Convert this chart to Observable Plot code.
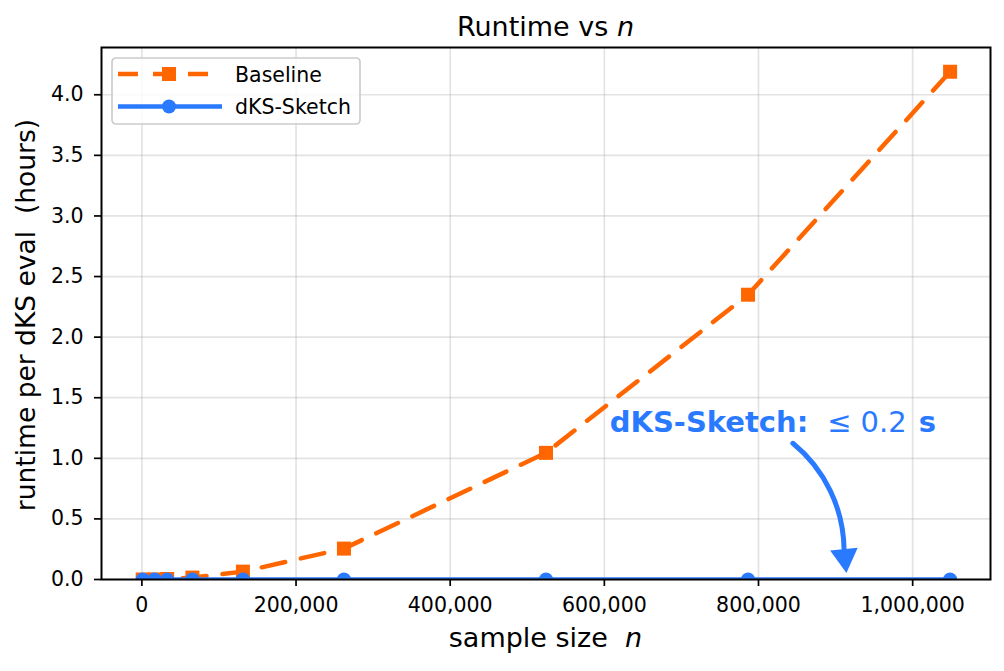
<!DOCTYPE html>
<html>
<head>
<meta charset="utf-8">
<script src="https://cdn.jsdelivr.net/npm/d3@7"></script>
<script src="https://cdn.jsdelivr.net/npm/@observablehq/plot@0.6"></script>
<style>
  body { margin: 0; background: #fff; font-family: "DejaVu Sans", sans-serif; }
  #wrap { position: relative; width: 1004px; height: 671px; overflow: hidden; background: #fff; }
  #title { position: absolute; left: 101px; width: 889px; top: 13px; text-align: center; font-size: 27px; line-height: 27px; color: #000; white-space: nowrap; }
  #chart { position: absolute; left: 0; top: 40px; }
  #xlabel { position: absolute; left: 101px; width: 889px; top: 624px; text-align: center; font-size: 27px; line-height: 27px; color: #000; white-space: pre; }
  #ylabel { position: absolute; left: 25px; top: 315px; font-size: 26.5px; line-height: 27px; color: #000; white-space: pre; transform: translate(-50%, -50%) rotate(-90deg); }
  #legend { position: absolute; left: 111px; top: 57px; }
  #legend text { font-family: "DejaVu Sans", sans-serif; font-size: 20.5px; fill: #000; }
</style>
</head>
<body>
<div id="wrap">
  <div id="title"></div>
  <div id="chart"></div>
  <div id="xlabel"></div>
  <div id="ylabel"></div>
  <svg id="legend" width="250" height="68"></svg>
</div>
<script>
// ---- data ----
const nValues = [1024, 16384, 32768, 65536, 131072, 262144, 524288, 786432, 1048576];
const baselineHours = [0.0002, 0.001, 0.004, 0.016, 0.065, 0.255, 1.045, 2.35, 4.19];
const sketchHours = [0.00002, 0.00002, 0.00003, 0.00003, 0.00004, 0.00004, 0.00005, 0.00005, 0.00006];
const xTicks = [0, 200000, 400000, 600000, 800000, 1000000];
const yTicks = [0, 0.5, 1, 1.5, 2, 2.5, 3, 3.5, 4];
const seriesNames = ["Baseline", "dKS-Sketch"];
const seriesColors = ["#ff6600", "#2a7aff"];
const titleText = "Runtime vs ";
const titleVar = "n";
const xLabelText = "sample size  ";
const yLabelText = "runtime per dKS eval  (hours)";
const annotationLabel = [{x: 607000, y: 1.29, bold: "dKS-Sketch:", rel: "≤", value: "0.2", unit: "s"}];
const annotationArrow = [{x1: 844600, y1: 1.124, x2: 911000, y2: 0.25}];
const annotationHead = [{x: 911900, y: 0.185}];

// ---- tables ----
const baseline = nValues.map((n, i) => ({n, h: baselineHours[i]}));
const sketch = nValues.map((n, i) => ({n, h: sketchHours[i]}));

const orange = seriesColors[0], blue = seriesColors[1];

const plot = Plot.plot({
  width: 1004,
  height: 631,
  marginTop: 7,
  marginBottom: 92,
  marginLeft: 101,
  marginRight: 14,
  style: {fontFamily: "DejaVu Sans, sans-serif", fontSize: "20.5px", color: "#000", background: "transparent"},
  x: {domain: [-52400, 1101000]},
  y: {domain: [0, 4.39]},
  marks: [
    Plot.gridX(xTicks, {stroke: "#b0b0b0", strokeOpacity: 0.35, strokeWidth: 1.7}),
    Plot.gridY(yTicks, {stroke: "#b0b0b0", strokeOpacity: 0.35, strokeWidth: 1.7}),
    Plot.line(baseline, {x: "n", y: "h", stroke: orange, strokeWidth: 4.5, strokeDasharray: "24,16", clip: true}),
    Plot.dot(baseline, {x: "n", y: "h", symbol: "square", r: 7.9, fill: orange, stroke: null, clip: true}),
    Plot.line(sketch, {x: "n", y: "h", stroke: blue, strokeWidth: 4.5, clip: true}),
    Plot.dot(sketch, {x: "n", y: "h", symbol: "circle", r: 7, fill: blue, stroke: null, clip: true}),
    Plot.text(annotationLabel, {x: "x", y: "y", text: "bold", textAnchor: "start", lineAnchor: "middle", fill: blue, fontSize: 29, fontWeight: "bold"}),
    Plot.arrow(annotationArrow, {x1: "x1", y1: "y1", x2: "x2", y2: "y2", bend: 25, headLength: 0, stroke: blue, strokeWidth: 5}),
    Plot.dot(annotationHead, {x: "x", y: "y", symbol: "triangle", r: 10.3, fill: blue, stroke: null, rotate: 174}),
    Plot.frame({stroke: "#000", strokeWidth: 2}),
    Plot.axisX({ticks: xTicks, tickFormat: d3.format(","), tickSize: 7, tickPadding: 11, strokeWidth: 1.7, label: null, fontSize: 20.5}),
    Plot.axisY({ticks: yTicks, tickFormat: d3.format(".1f"), tickSize: 7, tickPadding: 11, strokeWidth: 1.7, label: null, fontSize: 20.5})
  ]
});
document.getElementById("chart").appendChild(plot);

// rich text for the annotation
plot.querySelectorAll("text").forEach(t => {
  const a = annotationLabel[0];
  if (t.textContent === a.bold) {
    const ns = "http://www.w3.org/2000/svg";
    const parts = [
      {s: a.bold, w: "bold", dx: 0},
      {s: a.rel, w: "normal", dx: 19},
      {s: a.value, w: "normal", dx: 9},
      {s: a.unit, w: "bold", dx: 12}
    ];
    t.textContent = "";
    parts.forEach(p => {
      const ts = document.createElementNS(ns, "tspan");
      ts.textContent = p.s;
      ts.setAttribute("font-weight", p.w);
      if (p.dx) ts.setAttribute("dx", p.dx);
      t.appendChild(ts);
    });
  }
});

// title and axis labels
const title = document.getElementById("title");
title.append(titleText);
const ti = document.createElement("i"); ti.textContent = titleVar; title.appendChild(ti);
const xl = document.getElementById("xlabel");
xl.append(xLabelText);
const xi = document.createElement("i"); xi.textContent = titleVar; xl.appendChild(xi);
document.getElementById("ylabel").textContent = yLabelText;

// legend
const lg = d3.select("#legend");
lg.append("rect").attr("x", 1).attr("y", 1).attr("width", 248).attr("height", 66).attr("rx", 4)
  .attr("fill", "#fff").attr("fill-opacity", 0.8).attr("stroke", "#cccccc").attr("stroke-width", 1.7);
const rows = [
  {name: seriesNames[0], color: orange, dash: "20,15", symbol: d3.symbolSquare, size: 196},
  {name: seriesNames[1], color: blue, dash: null, symbol: d3.symbolCircle, size: Math.PI * 49}
];
rows.forEach((r, i) => {
  const cy = 17 + i * 32.5;
  lg.append("line").attr("x1", 7).attr("x2", 111).attr("y1", cy).attr("y2", cy)
    .attr("stroke", r.color).attr("stroke-width", 4.5).attr("stroke-dasharray", r.dash);
  lg.append("path").attr("d", d3.symbol(r.symbol, r.size)()).attr("transform", `translate(58,${cy})`).attr("fill", r.color);
  lg.append("text").attr("x", 124).attr("y", cy + 7.5).text(r.name);
});
</script>
</body>
</html>
